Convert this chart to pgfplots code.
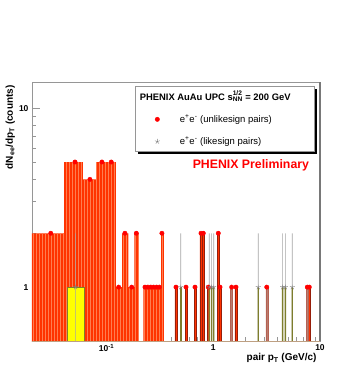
\documentclass[border=0pt]{standalone}
\usepackage{fontspec}
\setmainfont{Liberation Sans}
\usepackage{pgfplots}
\pgfplotsset{compat=1.18}
\usetikzlibrary{patterns,shadows,calc}

\definecolor{redfill}{RGB}{255,51,0}
\definecolor{stripe}{RGB}{255,125,80}
\definecolor{mkred}{RGB}{255,0,0}
\definecolor{spkedge}{RGB}{150,30,10}
\definecolor{brownsp}{RGB}{185,125,110}
\definecolor{yel}{RGB}{255,255,0}
\definecolor{olivebar}{RGB}{125,125,45}
\definecolor{errgray}{RGB}{165,165,165}
\definecolor{framegray}{RGB}{150,150,150}
\definecolor{tan}{RGB}{190,160,130}

\begin{document}
\begin{tikzpicture}
\begin{axis}[name=a, scale only axis, width=288pt, height=259pt,
  xmode=log, ymode=log, xmin=0.02, xmax=10, ymin=0.5, ymax=14,
  log origin=infty,
  xtick={0.1,1,10}, xticklabels={10\textsuperscript{-1},1,10},
  ytick={1,10}, yticklabels={1,10},
  minor xtick={0.02,0.03,0.04,0.05,0.06,0.07,0.08,0.09,0.2,0.3,0.4,0.5,0.6,0.7,0.8,0.9,2,3,4,5,6,7,8,9},
  minor ytick={0.5,0.6,0.7,0.8,0.9,2,3,4,5,6,7,8,9},
  tick align=inside, xtick pos=left, ytick pos=left,
  major tick length=8pt, minor tick length=4pt,
  tick style={framegray, line width=0.5pt},
  axis line style={framegray, line width=0.7pt},
  ticklabel style={font=\bfseries\fontsize{8.5}{10}\selectfont},
  xlabel={\textbf{pair p\textsubscript{T} (GeV/c)}},
  ylabel={\textbf{dN\textsubscript{ee}/dp\textsubscript{T} (counts)}},
  x label style={font=\fontsize{10}{12}\selectfont},
  y label style={font=\fontsize{8.5}{10}\selectfont},
  every axis x label/.style={at={(axis description cs:1,-0.066)}, anchor=east},
  every axis y label/.style={at={(axis description cs:-0.075,1)}, rotate=90, anchor=east},
  legend cell align=left,
  legend style={at={(axis description cs:0.358,0.985)}, anchor=north west,
    draw=framegray, fill=white, line width=0.4pt,
    drop shadow={shadow xshift=3pt, shadow yshift=-3pt, fill=black, opacity=1},
    font=\fontsize{9.5}{11}\selectfont,
    inner xsep=13.5pt, inner ysep=3pt, row sep=9pt, column sep=18pt},
]
\addlegendimage{empty legend}
\addlegendentry{\hspace*{-40pt}\fontsize{9.4}{11}\selectfont\textbf{PHENIX AuAu UPC s\rlap{\raisebox{0.6pt}{\textsuperscript{1/2}}}\textsubscript{NN} = 200 GeV}\hspace*{8pt}}

% unlike-sign histogram, continuous part
\addplot[forget plot, fill=redfill, draw=none,
  postaction={pattern=vertical lines, pattern color=stripe}] coordinates {
  (0.02,0.3) (0.02,2) (0.04,2) (0.04,5) (0.06,5) (0.06,4) (0.08,4) (0.08,5)
  (0.1225,5) (0.1225,1) (0.140,1) (0.140,2) (0.160,2) (0.160,1) (0.182,1)
  (0.182,2) (0.201,2) (0.201,0.3)};
\addplot[forget plot, fill=redfill, draw=none,
  postaction={pattern=vertical lines, pattern color=stripe}] coordinates {
  (0.221,0.3) (0.221,1) (0.324,1) (0.324,2) (0.345,2) (0.345,0.3)};

% like-sign histogram
\addplot[forget plot, fill=yel, draw=olivebar, line width=0.4pt] coordinates {
  (0.0423,0.3) (0.0423,1) (0.0618,1) (0.0618,0.3)};

% unlike-sign single bins
\addplot[forget plot, ybar, bar width=2pt, fill=redfill, draw=spkedge, line width=0.4pt]
  coordinates {(0.447,1) (0.555,1) (0.674,1) (0.767,2) (0.806,2) (0.898,1)
  (1.114,2) (1.156,1) (1.632,1) (7.94,1)};
\addplot[forget plot, ybar, bar width=2pt, fill=brownsp, draw=spkedge!70, line width=0.4pt]
  coordinates {(1.487,1) (3.17,1) (7.6,1)};

% like-sign error bars
\addplot[forget plot, ybar, bar width=0.6pt, fill=errgray, draw=none]
  coordinates {(0.0513,2) (0.495,2) (0.917,2) (0.966,2) (1.009,2) (2.64,2) (4.47,2) (4.73,2) (5.5,2)};
% like-sign single bins
\addplot[forget plot, ybar, bar width=1.6pt, fill=yel!80!olivebar, draw=olivebar, line width=0.3pt]
  coordinates {(0.495,1)};
\addplot[forget plot, ybar, bar width=1.4pt, fill=olivebar, draw=none]
  coordinates {(0.917,1) (0.966,1) (1.009,1) (2.64,1) (4.47,1) (4.73,1) (5.5,1)};

% markers
\addplot[only marks, mark=*, mark size=2.2pt, color=mkred] coordinates {
  (0.030,2) (0.0506,5) (0.0698,4) (0.0904,5) (0.1106,5) (0.1298,1) (0.1486,2)
  (0.172,1) (0.19,2) (0.229,1) (0.244,1) (0.26,1) (0.276,1) (0.294,1) (0.312,1)
  (0.330,2) (0.447,1) (0.555,1) (0.674,1) (0.767,2) (0.806,2) (0.898,1)
  (1.114,2) (1.156,1) (1.487,1) (1.632,1) (3.17,1) (7.6,1) (7.94,1)};
\addlegendentry{e\textsuperscript{+}e\textsuperscript{-} (unlikesign pairs)}
\addplot[only marks, mark=star, mark size=2.6pt, color=gray, line width=0.4pt] coordinates {
  (0.0513,1) (0.495,1) (0.917,1) (0.966,1) (1.009,1) (2.64,1) (4.47,1) (4.73,1) (5.5,1)};
\addlegendentry{e\textsuperscript{+}e\textsuperscript{-} (likesign pairs)}

\node[text=mkred, font=\bfseries\fontsize{12.3}{14}\selectfont]
  at (axis description cs:0.760,0.677) {PHENIX Preliminary};
\end{axis}
\draw[tan, line width=0.7pt] (a.south west) -- (a.south east);
\draw[framegray!80!black, line width=1.4pt] (a.south east) -- (a.north east);
\path ($(a.south west)+(-32pt,-30pt)$) rectangle ($(a.north east)+(34pt,82pt)$);
\end{tikzpicture}
\end{document}
